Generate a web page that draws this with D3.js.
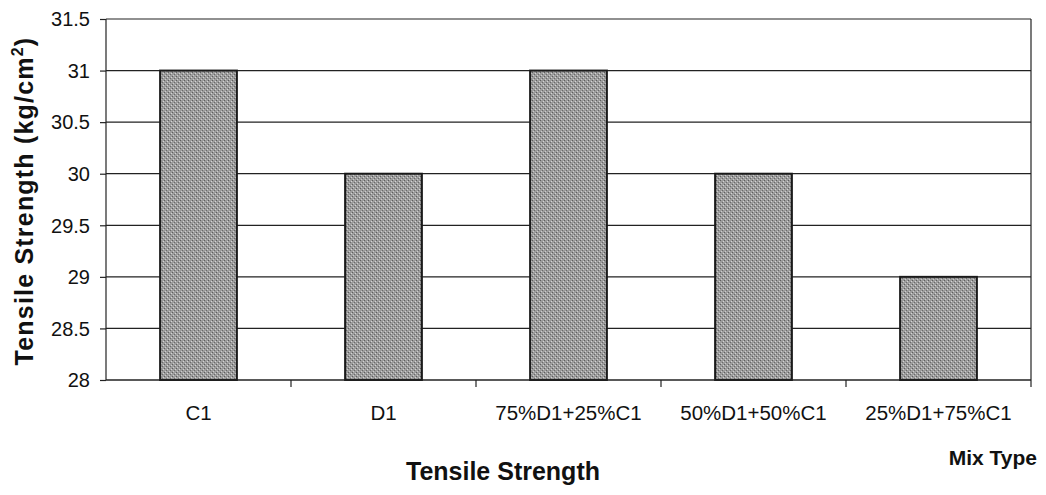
<!DOCTYPE html>
<html>
<head>
<meta charset="utf-8">
<script src="https://cdn.jsdelivr.net/npm/d3@7"></script>
<style>
  body { margin: 0; background: #fff; }
  text { font-family: "Liberation Sans", Arial, sans-serif; fill: #111; }
</style>
</head>
<body>
<div id="chart"></div>
<script>
var categories = ["C1", "D1", "75%D1+25%C1", "50%D1+50%C1", "25%D1+75%C1"];
var values = [31, 30, 31, 30, 29];
var yTicks = [28, 28.5, 29, 29.5, 30, 30.5, 31, 31.5];

var width = 1046, height = 495;
var margin = {top: 19, right: 15, bottom: 115, left: 106};

var svg = d3.select("#chart").append("svg")
  .attr("width", width)
  .attr("height", height);

// speckled fill like the scanned bars
var defs = svg.append("defs");
var pat = defs.append("pattern")
  .attr("id", "speck")
  .attr("width", 4).attr("height", 4)
  .attr("patternUnits", "userSpaceOnUse");
pat.append("rect").attr("width", 4).attr("height", 4).attr("fill", "#9c9c9c");
pat.append("rect").attr("x", 0).attr("y", 0).attr("width", 1).attr("height", 1).attr("fill", "#5e5e5e");
pat.append("rect").attr("x", 2).attr("y", 2).attr("width", 1).attr("height", 1).attr("fill", "#6a6a6a");
pat.append("rect").attr("x", 3).attr("y", 1).attr("width", 1).attr("height", 1).attr("fill", "#d4d4d4");
pat.append("rect").attr("x", 1).attr("y", 3).attr("width", 1).attr("height", 1).attr("fill", "#cccccc");

var x = d3.scaleBand()
  .domain(categories)
  .range([margin.left, width - margin.right])
  .paddingInner(0.585)
  .paddingOuter(0.2925);

var y = d3.scaleLinear()
  .domain([28, 31.5])
  .range([height - margin.bottom, margin.top]);

var g = svg.append("g");

// gridlines
g.selectAll(".grid").data(yTicks).enter().append("line")
  .attr("x1", margin.left).attr("x2", width - margin.right)
  .attr("y1", function(d) { return y(d); })
  .attr("y2", function(d) { return y(d); })
  .attr("stroke", "#222").attr("stroke-width", 1.2);

// right border
g.append("line")
  .attr("x1", width - margin.right).attr("x2", width - margin.right)
  .attr("y1", y(31.5)).attr("y2", y(28))
  .attr("stroke", "#222").attr("stroke-width", 1.2);

// bars
g.selectAll(".bar").data(values).enter().append("rect")
  .attr("x", function(d, i) { return x(categories[i]); })
  .attr("y", function(d) { return y(d); })
  .attr("width", x.bandwidth())
  .attr("height", function(d) { return y(28) - y(d); })
  .attr("fill", "url(#speck)")
  .attr("stroke", "#1a1a1a").attr("stroke-width", 2);

// y axis
var yAxis = d3.axisLeft(y).tickValues(yTicks).tickSize(6).tickPadding(10)
  .tickFormat(function(d) { return d; });
var ya = svg.append("g")
  .attr("transform", "translate(" + margin.left + ",0)")
  .call(yAxis);
ya.selectAll("text").style("font-size", "20px").attr("dy", "0.34em");
ya.selectAll("line, path").attr("stroke", "#222").attr("stroke-width", 1.2);
ya.select(".domain").attr("d", "M0," + y(31.5) + "V" + y(28));

// x axis: ticks at band boundaries
var xa = svg.append("g")
  .attr("transform", "translate(0," + y(28) + ")");
xa.append("line")
  .attr("x1", margin.left).attr("x2", width - margin.right)
  .attr("stroke", "#222").attr("stroke-width", 1.2);
var step = x.step();
xa.selectAll(".xt").data(categories).enter().append("line")
  .attr("x1", function(d) { return x(d) - x.step() * x.paddingInner() / 2 + step; })
  .attr("x2", function(d) { return x(d) - x.step() * x.paddingInner() / 2 + step; })
  .attr("y1", 0).attr("y2", 7)
  .attr("stroke", "#222").attr("stroke-width", 1.2);
xa.selectAll(".xl").data(categories).enter().append("text")
  .attr("x", function(d) { return x(d) + x.bandwidth() / 2; })
  .attr("y", 420 - y(28))
  .attr("text-anchor", "middle")
  .style("font-size", "20.5px")
  .text(function(d) { return d; });

// titles
svg.append("text")
  .attr("transform", "translate(33,201) rotate(-90)")
  .attr("text-anchor", "middle")
  .style("font-size", "25px").style("font-weight", "bold").style("letter-spacing", "1.2px")
  .html('Tensile Strength (kg/cm<tspan dy="-10" style="font-size:16px">2</tspan><tspan dy="10">)</tspan>');

svg.append("text")
  .attr("x", 503).attr("y", 480)
  .attr("text-anchor", "middle")
  .style("font-size", "25px").style("font-weight", "bold")
  .text("Tensile Strength");

svg.append("text")
  .attr("x", 1037).attr("y", 465)
  .attr("text-anchor", "end")
  .style("font-size", "21px").style("font-weight", "bold")
  .text("Mix Type");
</script>
</body>
</html>
